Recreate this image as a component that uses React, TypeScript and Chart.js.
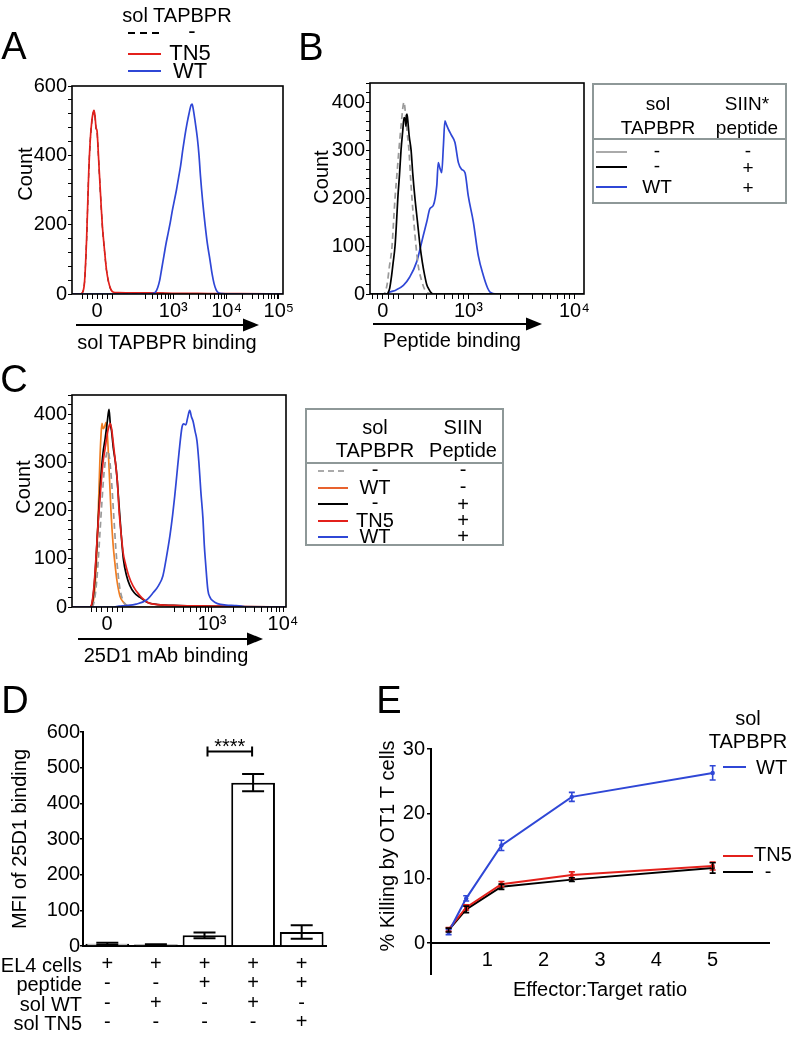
import React, { useEffect, useRef } from "react";
import { Chart, registerables } from "chart.js";

Chart.register(...registerables);

const FONT = "'Liberation Sans', Arial, Helvetica, sans-serif";
Chart.defaults.font.family = FONT;
Chart.defaults.color = "#000";

// ---------- colours
const RED = "#e3201b";
const BLUE = "#2f47d6";
const ORANGE = "#f07d22";
const GRAY = "#9a9a9a";
const BLACK = "#000000";
const BOX = "#8e9898";

type Pt = [number, number];

// ---------- Panel A : sol TAPBPR binding (display units 0..101)
const aXMajor = [12, 48.5, 74, 99];
const aXLabels = ["0", "10³", "10⁴", "10⁵"];
const aYLabels = [0, 200, 400, 600];
const aNone: Pt[] = [[0,0],[4,0],[5,4],[6,34],[7,158],[8,348],[8.7,438],[9.5,498],[10,518],[10.5,528],[11,513],[11.5,478],[12,468],[12.4,428],[13,358],[14,248],[14.5,198],[15.5,128],[16.5,69],[17.5,34],[18.5,14],[19.6,5],[22,3],[30,2],[40,2],[50,1],[60,1],[101,0]];
const aTN5: Pt[] = [[0,0],[4,0],[5,4],[6,35],[7,160],[8,350],[8.7,440],[9.5,500],[10,520],[10.5,530],[11,515],[11.5,480],[12,470],[12.4,430],[13,360],[14,250],[14.5,200],[15.5,130],[16.5,70],[17.5,35],[18.5,15],[19.6,6],[22,4],[30,3],[40,3],[50,2],[60,2],[70,1],[80,1],[101,0]];
const aWT: Pt[] = [[0,0],[36,0],[38,1],[40,6],[41,18],[42,40],[43,75],[44,110],[45,145],[46,175],[47,205],[48,240],[49,270],[50,300],[51,335],[52,370],[53,415],[54,455],[55,490],[56,520],[57,545],[57.5,548],[58,535],[59,495],[60,450],[60.8,400],[61.5,340],[62.5,270],[63.7,200],[64.8,145],[66,100],[67,60],[68,30],[69,12],[70,4],[72,1],[80,0],[101,0]];

// ---------- Panel B : peptide binding (display units 0..100)
const bXMajor = [6, 46, 95.5];
const bXLabels = ["0", "10³", "10⁴"];
const bYLabels = [0, 100, 200, 300, 400];
const bNone: Pt[] = [[0,0],[6,0],[7,3],[8,20],[9,55],[10.3,100],[11,150],[11.7,200],[12.6,250],[13.5,300],[14.5,350],[15.4,390],[15.9,400],[16.5,380],[17.3,340],[18.2,300],[19,240],[19.6,200],[20.5,150],[21.5,100],[22.5,60],[24,30],[25.5,10],[27,2],[29,0],[100,0]];
const bPep: Pt[] = [[0,0],[8,0],[8.4,2],[9.2,12],[10,35],[10.8,65],[11.7,100],[12.4,150],[13,200],[13.8,250],[14.5,300],[15.3,340],[15.9,368],[16.4,365],[16.8,350],[17.1,372],[17.3,375],[17.8,355],[18.3,330],[19.2,300],[20,250],[21,200],[22.2,150],[23.4,100],[24.5,65],[25.5,40],[26.5,20],[27.5,10],[28.5,3],[29.4,0],[100,0]];
const bWT: Pt[] = [[0,0],[8,0],[9.3,4],[12,8],[15.6,18],[18.5,35],[21.8,67],[24.9,122],[26.5,150],[28,178],[29.6,185],[31.2,226],[31.9,274],[32.7,262],[33.5,253],[34.3,309],[35,361],[35.8,352],[36.6,344],[38.2,330],[39.7,316],[41.3,274],[42.8,260],[44.4,253],[45.9,205],[48.3,150],[50.6,80],[53,38],[55,12],[56.1,4],[59.2,0],[100,0]];

// ---------- Panel C : 25D1 mAb binding (display units 0..100)
const cXMajor = [16.4, 65.4, 98.6];
const cXLabels = ["0", "10³", "10⁴"];
const cYLabels = [0, 100, 200, 300, 400];
const cNone: Pt[] = [[0,0],[9,0],[10,5],[11,30],[12,80],[13,150],[14,220],[15,280],[16,315],[16.8,324],[17.5,310],[18.5,260],[19.5,190],[20.5,120],[21.5,70],[22.5,35],[24,12],[26,2],[28,0],[100,0]];
const cWT: Pt[] = [[0,0],[8,0],[9.3,4],[10.5,30],[11.5,100],[12.3,200],[13,300],[13.6,360],[14,381],[14.6,370],[15.3,375],[15.9,383],[16.5,360],[17.2,300],[18.2,200],[19.2,130],[20,93],[21,55],[22.4,23],[24,10],[25.7,3],[28,1],[35,0],[100,0]];
const cPep: Pt[] = [[0,0],[8.5,0],[9.5,10],[10.5,50],[11.5,120],[12.5,200],[13.5,270],[14.5,320],[15.5,350],[16.5,385],[17.3,410],[17.9,380],[18.5,365],[19.3,330],[20.3,300],[21,270],[22,210],[23,150],[24,100],[25.5,65],[27,45],[29,30],[31.8,20],[35,10],[40,5],[50,3],[60,2],[75,1],[100,0]];
const cTN5: Pt[] = [[0,0],[8.5,0],[9.3,8],[10.3,45],[11.3,110],[12.3,180],[13.5,250],[14.5,300],[15.5,330],[16.5,360],[17.3,375],[17.8,381],[18.5,370],[19.3,340],[20.3,300],[21.2,260],[22,200],[23,150],[24,110],[24.8,93],[26.5,65],[28.5,44],[31.8,23],[34,14],[36,8],[40,5],[50,3],[65,2],[80,1],[100,0]];
const cWTPep: Pt[] = [[0,0],[19,0],[22,2],[25,3],[30,6],[35,15],[38,30],[40.5,45],[42.5,65],[44,100],[45.8,149],[47,190],[48,230],[49,275],[50,320],[51.4,373],[52.2,380],[53.2,378],[54,392],[55,408],[55.8,395],[56.6,385],[57.5,365],[58.4,345],[59.3,300],[60.2,240],[61.2,183],[61.8,130],[62.4,93],[63.5,35],[64.5,20],[66,12],[68,7],[72,4],[76,3],[79,2],[82,0],[100,0]];

// ---------- Panel D : MFI bars
const dRowNames = ["EL4 cells", "peptide", "sol WT", "sol TN5"];
const dEL4 = ["+", "+", "+", "+", "+"];
const dPeptide = ["-", "-", "+", "+", "+"];
const dSolWT = ["-", "+", "-", "+", "-"];
const dSolTN5 = ["-", "-", "-", "-", "+"];
const dMeans = [6, 4, 30, 458, 39];
const dErrs = [3, 1, 8, 24, 19];
const dYTicks = [0, 100, 200, 300, 400, 500, 600];
const dSigPair = [2, 3];
const dSigLevel = 545;
const dSigText = "****";

// ---------- Panel E : killing curves
const eRatios = [0.3125, 0.625, 1.25, 2.5, 5];
const eWT = [1.7, 6.9, 15.1, 22.6, 26.3];
const eWTErr = [0.4, 0.4, 0.8, 0.7, 1.1];
const eTN5 = [2.1, 5.5, 9.1, 10.5, 11.9];
const eTN5Err = [0.3, 0.4, 0.4, 0.5, 0.6];
const eNone = [2.0, 5.2, 8.7, 9.8, 11.6];
const eNoneErr = [0.3, 0.5, 0.4, 0.3, 0.8];
const eXTickLabels = [1, 2, 3, 4, 5];
const eYTickLabels = [0, 10, 20, 30];

// ---------- helpers
function logMinor(zero: number, major3: number, decade: number, max: number, lin: number): number[] {
  const out: number[] = [];
  for (let k = 1; k <= 3; k++) { out.push(zero - k * lin, zero + k * lin); }
  for (let k = 3; k <= 9; k++) out.push(major3 - decade + Math.log10(k) * decade);
  for (let d = 0; d < 3; d++) {
    for (let k = 2; k <= 9; k++) out.push(major3 + d * decade + Math.log10(k) * decade);
  }
  return out.filter((v) => v > 0.3 && v < max - 0.3);
}

const framePlugin = {
  id: "frame",
  afterDraw(chart: any) {
    const { ctx, chartArea: a } = chart;
    ctx.save();
    ctx.strokeStyle = "#000";
    ctx.lineWidth = 1.6;
    ctx.strokeRect(a.left, a.top, a.right - a.left, a.bottom - a.top);
    ctx.restore();
  },
};

type Series = { pts: Pt[]; color: string; dash?: number[]; width?: number };

function histConfig(o: {
  series: Series[]; xMax: number; xMajor: number[]; xLabels: string[]; xMinor: number[];
  yMax: number; yStep: number; yLabels: number[]; yW: number; xH: number; padTop: number; padRight: number;
}): any {
  const allX = [...o.xMajor, ...o.xMinor].sort((p, q) => p - q);
  return {
    type: "line",
    data: {
      datasets: o.series.map((s) => ({
        data: s.pts.map(([x, y]) => ({ x, y })),
        borderColor: s.color,
        borderDash: s.dash || [],
        borderWidth: s.width || 1.7,
        pointRadius: 0,
        tension: 0.3,
        cubicInterpolationMode: "monotone",
        fill: false,
      })),
    },
    options: {
      animation: false,
      responsive: false,
      events: [],
      layout: { padding: { top: o.padTop, right: o.padRight, left: 0, bottom: 0 } },
      plugins: { legend: { display: false }, tooltip: { enabled: false } },
      scales: {
        x: {
          type: "linear", min: 0, max: o.xMax,
          afterBuildTicks: (s: any) => { s.ticks = allX.map((v) => ({ value: v })); },
          ticks: {
            autoSkip: false, maxRotation: 0, padding: 2, color: "#000",
            font: { size: 20, lineHeight: 1 },
            callback: (v: number) => {
              const i = o.xMajor.findIndex((m) => Math.abs(m - v) < 1e-6);
              return i >= 0 ? o.xLabels[i] : "";
            },
          },
          grid: { drawOnChartArea: false, tickLength: 5, color: "#000", lineWidth: 1 },
          border: { display: false },
          afterFit: (s: any) => { s.height = o.xH; s.paddingLeft = 0; s.paddingRight = 0; },
        },
        y: {
          min: 0, max: o.yMax,
          ticks: {
            stepSize: o.yStep, autoSkip: false, padding: 1, color: "#000",
            font: { size: 20, lineHeight: 1 },
            callback: (v: number) => (o.yLabels.includes(v) ? String(v) : ""),
          },
          grid: { drawOnChartArea: false, tickLength: 4, color: "#000", lineWidth: 1 },
          border: { display: false },
          afterFit: (s: any) => { s.width = o.yW; s.paddingTop = 0; s.paddingBottom = 0; },
        },
      },
    },
    plugins: [framePlugin],
  };
}

function configA() {
  return histConfig({
    series: [
      { pts: aWT, color: BLUE },
      { pts: aTN5, color: RED },
      { pts: aNone, color: BLACK, dash: [5, 4], width: 1.2 },
    ],
    xMax: 101, xMajor: aXMajor, xLabels: aXLabels, xMinor: logMinor(12, 48.5, 25.5, 101, 2.4),
    yMax: 600, yStep: 40, yLabels: aYLabels, yW: 52, xH: 40, padTop: 8, padRight: 27,
  });
}
function configB() {
  return histConfig({
    series: [
      { pts: bPep, color: BLACK },
      { pts: bNone, color: GRAY, dash: [6, 4] },
      { pts: bWT, color: BLUE },
    ],
    xMax: 100, xMajor: bXMajor, xLabels: bXLabels, xMinor: logMinor(6, 46, 49.5, 100, 2.5),
    yMax: 440, yStep: 20, yLabels: bYLabels, yW: 50, xH: 40, padTop: 8, padRight: 8,
  });
}
function configC() {
  return histConfig({
    series: [
      { pts: cWTPep, color: BLUE },
      { pts: cTN5, color: RED },
      { pts: cPep, color: BLACK },
      { pts: cNone, color: GRAY, dash: [6, 4] },
      { pts: cWT, color: ORANGE },
    ],
    xMax: 100, xMajor: cXMajor, xLabels: cXLabels, xMinor: logMinor(16.4, 65.4, 33.2, 100, 2.4),
    yMax: 440, yStep: 20, yLabels: cYLabels, yW: 52, xH: 40, padTop: 8, padRight: 24,
  });
}

const dErrorPlugin = {
  id: "dErrors",
  afterDatasetsDraw(chart: any) {
    const { ctx, scales } = chart;
    const meta = chart.getDatasetMeta(0);
    const y = scales.y;
    ctx.save();
    ctx.strokeStyle = "#000";
    ctx.lineWidth = 2;
    meta.data.forEach((bar: any, i: number) => {
      const x = bar.x;
      const top = y.getPixelForValue(dMeans[i] + dErrs[i]);
      const bot = y.getPixelForValue(Math.max(0, dMeans[i] - dErrs[i]));
      ctx.beginPath();
      ctx.moveTo(x, top); ctx.lineTo(x, bot);
      ctx.moveTo(x - 11, top); ctx.lineTo(x + 11, top);
      ctx.moveTo(x - 11, bot); ctx.lineTo(x + 11, bot);
      ctx.stroke();
    });
    // significance bracket
    const x1 = meta.data[dSigPair[0]].x + 3;
    const x2 = meta.data[dSigPair[1]].x - 1;
    const sy = y.getPixelForValue(dSigLevel);
    ctx.beginPath();
    ctx.moveTo(x1, sy - 5); ctx.lineTo(x1, sy + 5);
    ctx.moveTo(x1, sy); ctx.lineTo(x2, sy);
    ctx.moveTo(x2, sy - 5); ctx.lineTo(x2, sy + 5);
    ctx.stroke();
    ctx.fillStyle = "#000";
    ctx.font = `20px ${FONT}`;
    ctx.textAlign = "center";
    ctx.textBaseline = "alphabetic";
    ctx.fillText(dSigText, (x1 + x2) / 2, sy + 1);
    ctx.restore();
  },
};

function configD(): any {
  const labels = dEL4.map((_, i) => [dEL4[i], dPeptide[i], dSolWT[i], dSolTN5[i]]);
  return {
    type: "bar",
    data: {
      labels,
      datasets: [{
        data: dMeans, backgroundColor: "#ffffff", borderColor: "#000", borderWidth: 2,
        barPercentage: 0.9, categoryPercentage: 1, borderSkipped: "bottom",
      }],
    },
    options: {
      animation: false, responsive: false, events: [],
      layout: { padding: { top: 10, right: 8, left: 0, bottom: 0 } },
      plugins: { legend: { display: false }, tooltip: { enabled: false } },
      scales: {
        x: {
          grid: { display: false, drawTicks: false },
          border: { display: true, color: "#000", width: 2 },
          ticks: { autoSkip: false, maxRotation: 0, padding: 9, color: "#000", font: { size: 20, lineHeight: 0.965 } },
          afterFit: (s: any) => { s.height = 91; s.paddingLeft = 0; s.paddingRight = 0; },
        },
        y: {
          min: 0, max: 600,
          afterBuildTicks: (s: any) => { s.ticks = dYTicks.map((v) => ({ value: v })); },
          ticks: { padding: 0, color: "#000", font: { size: 20, lineHeight: 1 } },
          grid: { drawOnChartArea: false, tickLength: 3, color: "#000", lineWidth: 1.5 },
          border: { display: true, color: "#000", width: 2 },
          title: { display: true, text: "MFI of 25D1 binding", color: "#000", font: { size: 20, lineHeight: 1.2 }, padding: { top: 4, bottom: 4 } },
          afterFit: (s: any) => { s.width = 79; s.paddingTop = 0; s.paddingBottom = 0; },
        },
      },
    },
    plugins: [dErrorPlugin],
  };
}

const eErrSets = [eWTErr, eTN5Err, eNoneErr];
const eValSets = [eWT, eTN5, eNone];
const eErrorPlugin = {
  id: "eErrors",
  afterDatasetsDraw(chart: any) {
    const { ctx, scales, chartArea } = chart;
    const y = scales.y;
    ctx.save();
    ctx.lineWidth = 1.6;
    chart.data.datasets.forEach((ds: any, di: number) => {
      const meta = chart.getDatasetMeta(di);
      ctx.strokeStyle = ds.borderColor;
      meta.data.forEach((pt: any, i: number) => {
        const top = y.getPixelForValue(eValSets[di][i] + eErrSets[di][i]);
        const bot = y.getPixelForValue(eValSets[di][i] - eErrSets[di][i]);
        ctx.beginPath();
        ctx.moveTo(pt.x, top); ctx.lineTo(pt.x, bot);
        ctx.moveTo(pt.x - 3, top); ctx.lineTo(pt.x + 3, top);
        ctx.moveTo(pt.x - 3, bot); ctx.lineTo(pt.x + 3, bot);
        ctx.stroke();
      });
    });
    // y axis continues below the x axis
    ctx.strokeStyle = "#000";
    ctx.lineWidth = 2;
    ctx.beginPath();
    ctx.moveTo(chartArea.left, chartArea.bottom);
    ctx.lineTo(chartArea.left, chartArea.bottom + 32);
    ctx.stroke();
    ctx.restore();
  },
};

function configE(): any {
  const mk = (vals: number[], color: string) => ({
    data: eRatios.map((x, i) => ({ x, y: vals[i] })),
    borderColor: color, backgroundColor: color, borderWidth: 2,
    pointRadius: 2.2, pointBorderWidth: 0, tension: 0, clip: false,
  });
  return {
    type: "line",
    data: { datasets: [mk(eWT, BLUE), mk(eTN5, RED), mk(eNone, BLACK)] },
    options: {
      animation: false, responsive: false, events: [],
      layout: { padding: { top: 9, right: 24, left: 0, bottom: 0 } },
      plugins: { legend: { display: false }, tooltip: { enabled: false } },
      scales: {
        x: {
          type: "linear", min: 0, max: 6,
          ticks: {
            stepSize: 1, autoSkip: false, maxRotation: 0, padding: 7, color: "#000",
            font: { size: 20, lineHeight: 1 },
            callback: (v: number) => (eXTickLabels.includes(v) ? String(v) : ""),
          },
          grid: { display: false, drawTicks: false },
          border: { display: true, color: "#000", width: 2 },
          title: { display: true, text: "Effector:Target ratio", color: "#000", font: { size: 20, lineHeight: 1.2 }, padding: { top: 4, bottom: 4 } },
          afterFit: (s: any) => { s.height = 63; s.paddingLeft = 0; s.paddingRight = 0; },
        },
        y: {
          min: 0, max: 30,
          afterBuildTicks: (s: any) => { s.ticks = eYTickLabels.map((v) => ({ value: v })); },
          ticks: { padding: 2, color: "#000", font: { size: 20, lineHeight: 1 } },
          grid: { drawOnChartArea: false, tickLength: 4, color: "#000", lineWidth: 1.5 },
          border: { display: true, color: "#000", width: 2 },
          title: { display: true, text: "% Killing by OT1 T cells", color: "#000", font: { size: 20, lineHeight: 1.2 }, padding: { top: 4, bottom: 4 } },
          afterFit: (s: any) => { s.width = 59; s.paddingTop = 0; s.paddingBottom = 0; },
        },
      },
    },
    plugins: [eErrorPlugin],
  };
}

function ChartCanvas({ x, y, w, h, make }: { x: number; y: number; w: number; h: number; make: () => any }) {
  const ref = useRef<HTMLCanvasElement>(null);
  useEffect(() => {
    const chart = new Chart(ref.current as HTMLCanvasElement, make());
    return () => chart.destroy();
  }, []);
  return (
    <canvas ref={ref} width={w} height={h}
      style={{ position: "absolute", left: x, top: y, width: w, height: h }} />
  );
}

function T({ x, y, s = 20, a = "c", rot = false, children }: any) {
  const tx = a === "c" ? "-50%" : a === "r" ? "-100%" : "0";
  return (
    <div style={{
      position: "absolute", left: x, top: y, fontSize: s, lineHeight: 1, whiteSpace: "nowrap",
      transform: `translate(${tx}, -50%)${rot ? " rotate(-90deg)" : ""}`, color: "#000",
    }}>{children}</div>
  );
}

function Arrow({ x1, x2, y }: { x1: number; x2: number; y: number }) {
  return (
    <g>
      <line x1={x1} y1={y} x2={x2 - 12} y2={y} stroke="#000" strokeWidth={2} />
      <polygon points={`${x2 - 16},${y - 6.5} ${x2},${y} ${x2 - 16},${y + 6.5}`} fill="#000" />
    </g>
  );
}

export default function App() {
  return (
    <div style={{ position: "absolute", left: 0, top: 0, width: 793, height: 1037, background: "#fff", fontFamily: FONT, overflow: "hidden" }}>
      <ChartCanvas x={20} y={78} w={290} h={256} make={configA} />
      <ChartCanvas x={320} y={75} w={272} h={259} make={configB} />
      <ChartCanvas x={20} y={387} w={290} h={260} make={configC} />
      <ChartCanvas x={4} y={722} w={330} h={315} make={configD} />
      <ChartCanvas x={372} y={740} w={421} h={266} make={configE} />

      <svg width={793} height={1037} style={{ position: "absolute", left: 0, top: 0, pointerEvents: "none" }}>
        <Arrow x1={76} x2={259} y={325} />
        <Arrow x1={373} x2={542} y={324} />
        <Arrow x1={78} x2={263} y={639} />
        {/* legend A */}
        <line x1={128} y1={33} x2={161} y2={33} stroke={BLACK} strokeWidth={2} strokeDasharray="7 5" />
        <line x1={128} y1={54} x2={161} y2={54} stroke={RED} strokeWidth={2} />
        <line x1={128} y1={71} x2={161} y2={71} stroke={BLUE} strokeWidth={2} />
        {/* legend B */}
        <line x1={596} y1={152} x2={627} y2={152} stroke="#aaa" strokeWidth={2} />
        <line x1={596} y1={167} x2={627} y2={167} stroke={BLACK} strokeWidth={2} />
        <line x1={596} y1={187} x2={627} y2={187} stroke={BLUE} strokeWidth={2} />
        {/* legend C */}
        <line x1={318} y1={471} x2={348} y2={471} stroke="#aaa" strokeWidth={2} strokeDasharray="6 4" />
        <line x1={318} y1={488} x2={348} y2={488} stroke="#e8622e" strokeWidth={2} />
        <line x1={318} y1={504} x2={348} y2={504} stroke={BLACK} strokeWidth={2} />
        <line x1={318} y1={521} x2={348} y2={521} stroke={RED} strokeWidth={2} />
        <line x1={318} y1={537} x2={348} y2={537} stroke={BLUE} strokeWidth={2} />
        {/* legend E */}
        <line x1={723} y1={767} x2={746} y2={767} stroke={BLUE} strokeWidth={2} />
        <line x1={723} y1={856} x2={753} y2={856} stroke={RED} strokeWidth={2} />
        <line x1={723} y1={872} x2={753} y2={872} stroke={BLACK} strokeWidth={2} />
      </svg>

      {/* panel letters */}
      <T x={14} y={46} s={38}>A</T>
      <T x={311} y={47} s={38}>B</T>
      <T x={14} y={379} s={38}>C</T>
      <T x={15} y={700} s={38}>D</T>
      <T x={389} y={700} s={38}>E</T>

      {/* panel A texts */}
      <T x={177} y={15} s={20}>sol TAPBPR</T>
      <T x={192} y={31} s={22}>-</T>
      <T x={190} y={53} s={22}>TN5</T>
      <T x={190} y={71} s={22}>WT</T>
      <T x={25} y={174} s={20} rot>Count</T>
      <T x={167} y={342} s={20}>sol TAPBPR binding</T>

      {/* panel B texts */}
      <T x={321} y={177} s={20} rot>Count</T>
      <T x={452} y={340} s={20}>Peptide binding</T>
      <div style={{ position: "absolute", left: 592, top: 83, width: 191, height: 117, border: `2px solid ${BOX}` }} />
      <div style={{ position: "absolute", left: 592, top: 138, width: 195, height: 0, borderTop: `2px solid ${BOX}` }} />
      <T x={658} y={103} s={19}>sol</T>
      <T x={658} y={127} s={19}>TAPBPR</T>
      <T x={747} y={103} s={19}>SIIN*</T>
      <T x={747} y={127} s={19}>peptide</T>
      <T x={657} y={150} s={19}>-</T>
      <T x={748} y={150} s={19}>-</T>
      <T x={657} y={165} s={19}>-</T>
      <T x={748} y={167} s={19}>+</T>
      <T x={657} y={186} s={19}>WT</T>
      <T x={748} y={187} s={19}>+</T>

      {/* panel C texts */}
      <T x={23} y={487} s={20} rot>Count</T>
      <T x={166} y={655} s={20}>25D1 mAb binding</T>
      <div style={{ position: "absolute", left: 305, top: 408, width: 195, height: 134, border: `2px solid ${BOX}` }} />
      <div style={{ position: "absolute", left: 305, top: 462, width: 199, height: 0, borderTop: `2px solid ${BOX}` }} />
      <T x={375} y={427} s={20}>sol</T>
      <T x={375} y={450} s={20}>TAPBPR</T>
      <T x={463} y={427} s={20}>SIIN</T>
      <T x={463} y={450} s={20}>Peptide</T>
      <T x={375} y={469} s={20}>-</T>
      <T x={463} y={469} s={20}>-</T>
      <T x={375} y={487} s={20}>WT</T>
      <T x={463} y={486} s={20}>-</T>
      <T x={375} y={502} s={20}>-</T>
      <T x={463} y={504} s={20}>+</T>
      <T x={375} y={520} s={20}>TN5</T>
      <T x={463} y={520} s={20}>+</T>
      <T x={375} y={536} s={20}>WT</T>
      <T x={463} y={536} s={20}>+</T>

      {/* panel D row names */}
      {dRowNames.map((n, i) => (
        <T key={n} x={82} y={965 + i * 19.3} s={20} a="r">{n}</T>
      ))}

      {/* panel E legend */}
      <T x={748} y={718} s={20}>sol</T>
      <T x={748} y={741} s={20}>TAPBPR</T>
      <T x={756} y={767} s={20} a="l">WT</T>
      <T x={754} y={854} s={20} a="l">TN5</T>
      <T x={768} y={871} s={20}>-</T>
    </div>
  );
}
